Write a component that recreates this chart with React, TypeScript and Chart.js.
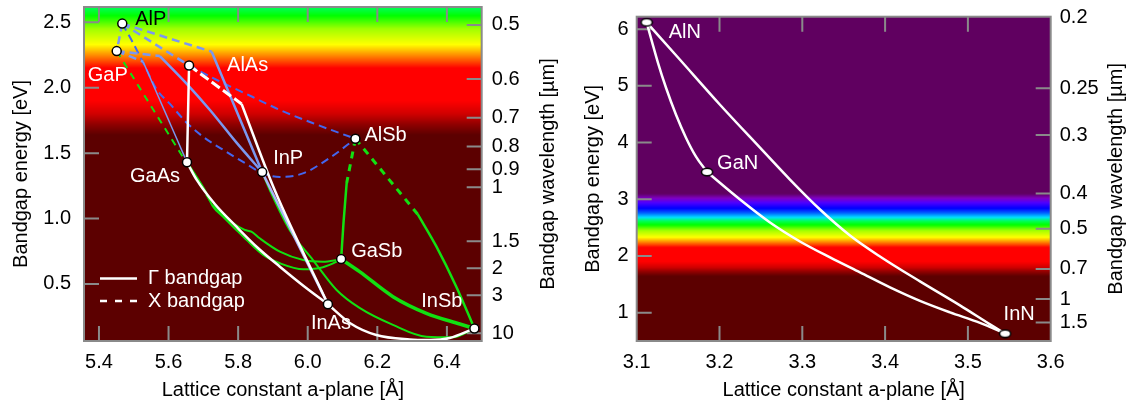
import React, { useEffect, useRef } from 'react';
import { Chart, registerables } from 'chart.js';
Chart.register(...registerables);

type P = [number, number];

const HC = 1.2398;
const FONT = '"Liberation Sans", Arial, Helvetica, sans-serif';
const GRAY = '#8a8a8a';
const TICK = 15;

// ---------- spectrum (energy eV -> colour) ----------
const spectrumEnergy = [1.64, 1.72, 1.8, 1.9, 2.15, 2.24, 2.33, 2.45, 2.55, 2.62, 2.68, 2.76, 2.84, 2.94, 3.02, 3.1];
const spectrumColor = ['#5c0000', '#900000', '#d00000', '#ff0000', '#ff0000', '#ff8000', '#ffff00', '#a0ff00', '#00ff00', '#00ff60', '#00e0ff', '#0060ff', '#0000ff', '#5000ff', '#8000c0', '#600060'];

// ---------- left chart: III-V (P, As, Sb) ----------
const leftNames = ['AlP', 'GaP', 'AlAs', 'GaAs', 'InP', 'AlSb', 'GaSb', 'InAs', 'InSb'];
const leftLattice = [5.467, 5.451, 5.659, 5.653, 5.869, 6.137, 6.096, 6.058, 6.479];
const leftGap = [2.49, 2.28, 2.17, 1.43, 1.355, 1.61, 0.69, 0.345, 0.16];
const leftXTicks = [5.4, 5.6, 5.8, 6.0, 6.2, 6.4];
const leftYTicks = [0.5, 1.0, 1.5, 2.0, 2.5];
const leftWlTicks = [0.5, 0.6, 0.7, 0.8, 0.9, 1, 1.5, 2, 3, 10];

// X-valley (indirect) curves, dashed
const alpGapX: P[] = [[5.467, 2.49], [5.451, 2.28]];
const alInPX: P[] = [[5.467, 2.49], [5.724, 2.275]];
const alAsPX: P[] = [[5.467, 2.49], [5.659, 2.17]];
const gaInPX: P[] = [[5.451, 2.28], [5.575, 2.242]];
const gaAsPX: P[] = [[5.451, 2.28], [5.527, 2.199]];
const alPSbX: P[] = [[5.467, 2.49], [5.498, 2.342], [5.526, 2.197], [5.567, 1.983], [5.604, 1.876], [5.653, 1.73], [5.704, 1.616], [5.767, 1.509], [5.819, 1.425], [5.871, 1.345], [5.92, 1.318], [5.986, 1.345], [6.063, 1.463], [6.137, 1.61]];
const alAsSbX: P[] = [[5.659, 2.17], [5.739, 2.059], [5.842, 1.929], [5.92, 1.83], [6.014, 1.73], [6.137, 1.61]];
const alInAsX: P[] = [[5.659, 2.17], [5.81, 1.876]];
const gaPSbX: P[] = [[5.451, 2.28], [5.727, 1.104]];
const alGaSbX: P[] = [[6.137, 1.61], [6.112, 1.272]];
const alInSbX: P[] = [[6.137, 1.61], [6.316, 1.033]];

// Gamma (direct) curves, solid
const alInPG: P[] = [[5.724, 2.275], [5.869, 1.355]];
const gaInPG: P[] = [[5.575, 2.242], [5.653, 2.028], [5.719, 1.83], [5.796, 1.578], [5.869, 1.355]];
const gaAsPG: P[] = [[5.527, 2.199], [5.653, 1.43]];
const inAsPG: P[] = [[5.869, 1.355], [6.058, 0.345]];
const alGaAsG: P[] = [[5.659, 2.17], [5.653, 1.43]];
const alInAsG: P[] = [[5.81, 1.876], [5.905, 1.218], [6.058, 0.345]];
const gaInAsG: P[] = [[5.653, 1.43], [5.681, 1.295], [5.733, 1.111], [5.795, 0.938], [5.857, 0.775], [5.92, 0.632], [5.992, 0.477], [6.058, 0.345]];
const inAsSbG: P[] = [[6.058, 0.345], [6.122, 0.2], [6.197, 0.11], [6.293, 0.076], [6.35, 0.072], [6.408, 0.087], [6.479, 0.16]];
const gaPSbG: P[] = [[5.727, 1.104], [5.786, 0.964], [5.819, 0.913], [5.838, 0.9], [5.862, 0.849], [5.92, 0.747], [5.987, 0.683], [6.044, 0.67], [6.083, 0.683], [6.096, 0.69]];
const gaAsSbG: P[] = [[5.653, 1.43], [5.679, 1.325], [5.704, 1.218], [5.728, 1.091], [5.757, 1.014], [5.795, 0.913], [5.824, 0.837], [5.872, 0.722], [5.92, 0.658], [5.987, 0.612], [6.044, 0.628], [6.083, 0.67], [6.096, 0.69]];
const inPSbG: P[] = [[5.869, 1.355], [5.891, 1.218], [5.948, 0.913], [6.015, 0.683], [6.083, 0.454], [6.149, 0.317], [6.245, 0.187], [6.341, 0.097], [6.417, 0.093], [6.479, 0.16]];
const alGaSbG: P[] = [[6.112, 1.272], [6.103, 0.974], [6.096, 0.69]];
const alInSbG: P[] = [[6.316, 1.033], [6.37, 0.785], [6.427, 0.479], [6.479, 0.16]];
const gaInSbG: P[] = [[6.096, 0.69], [6.149, 0.594], [6.245, 0.403], [6.341, 0.276], [6.437, 0.194], [6.479, 0.16]];

// ---------- right chart: nitrides ----------
const rightNames = ['AlN', 'GaN', 'InN'];
const rightLattice = [3.112, 3.185, 3.545];
const rightGap = [6.12, 3.48, 0.63];
const rightXTicks = [3.1, 3.2, 3.3, 3.4, 3.5, 3.6];
const rightYTicks = [1, 2, 3, 4, 5, 6];
const rightWlTicks = [0.2, 0.25, 0.3, 0.4, 0.5, 0.7, 1, 1.5];

const alGaNG: P[] = [[3.112, 6.12], [3.1185, 5.776], [3.1257, 5.407], [3.1354, 4.967], [3.1475, 4.491], [3.1595, 4.086], [3.1716, 3.752], [3.185, 3.48]];
const inGaNG: P[] = [[3.185, 3.48], [3.2248, 2.995], [3.261, 2.59], [3.2972, 2.255], [3.3335, 1.974], [3.3697, 1.71], [3.4059, 1.446], [3.4421, 1.208], [3.4784, 1.005], [3.5146, 0.82], [3.545, 0.63]];
const alInNG: P[] = [[3.112, 6.12], [3.1523, 5.46], [3.2006, 4.667], [3.2489, 3.91], [3.2851, 3.347], [3.3214, 2.819], [3.3576, 2.361], [3.3938, 1.991], [3.4421, 1.551], [3.4904, 1.128], [3.5267, 0.794], [3.545, 0.63]];

// ---------- label placement (pixels relative to point) ----------
const leftLabelDx = [13, -9, 38, -7, 11, 9, 10, 3, -12];
const leftLabelDy = [-4, 24.5, 0, 14.5, -13.5, -3.5, -7.5, 19, -26.5];
const leftLabelAlign: CanvasTextAlign[] = ['left', 'center', 'left', 'right', 'left', 'left', 'left', 'center', 'right'];
const leftLabelColor = ['#000000', '#ffffff', '#ffffff', '#ffffff', '#ffffff', '#ffffff', '#ffffff', '#ffffff', '#ffffff'];
const rightLabelDx = [22, 10, 14];
const rightLabelDy = [10.5, -9, -19.5];
const rightLabelAlign: CanvasTextAlign[] = ['left', 'left', 'center'];
const rightLabelColor = ['#ffffff', '#ffffff', '#ffffff'];

// ---------- helpers ----------
function hexToRgb(h: string) {
  const n = parseInt(h.slice(1), 16);
  return [(n >> 16) & 255, (n >> 8) & 255, n & 255];
}
function spectrumAt(e: number) {
  if (e <= spectrumEnergy[0]) return spectrumColor[0];
  const last = spectrumEnergy.length - 1;
  if (e >= spectrumEnergy[last]) return spectrumColor[last];
  let i = 0;
  while (e > spectrumEnergy[i + 1]) i++;
  const t = (e - spectrumEnergy[i]) / (spectrumEnergy[i + 1] - spectrumEnergy[i]);
  const a = hexToRgb(spectrumColor[i]);
  const b = hexToRgb(spectrumColor[i + 1]);
  const c = a.map((v, k) => Math.round(v + (b[k] - v) * t));
  return `rgb(${c[0]},${c[1]},${c[2]})`;
}
const toPts = (arr: P[]) => arr.map(([x, y]) => ({ x, y }));
function lineDs(pts: P[], color: string, width: number, dash: number[] = []) {
  return {
    type: 'scatter' as const,
    data: toPts(pts),
    showLine: true,
    borderColor: color,
    backgroundColor: color,
    borderWidth: width,
    borderDash: dash,
    borderJoinStyle: 'round' as const,
    pointRadius: 0,
    pointHoverRadius: 0,
    cubicInterpolationMode: 'monotone' as const,
    tension: 0.4,
    fill: false,
  };
}

interface Cfg {
  xMin: number; xMax: number; yMin: number; yMax: number;
  xTicks: number[]; yTicks: number[]; wlTicks: number[];
  xDigits: number; yDigits: number;
  padTop: number; leftW: number; rightW: number;
  yTitlePad: number; yTickPad: number; y2TickPad: number; xTickPad: number;
  rightTitleX: number;
  names: string[]; lattice: number[]; gap: number[];
  dx: number[]; dy: number[]; align: CanvasTextAlign[]; colors: string[];
  legend: boolean;
  datasets: any[];
}

function decoPlugin(cfg: Cfg) {
  return {
    id: 'deco',
    beforeDatasetsDraw(chart: any) {
      const { ctx, chartArea: a } = chart;
      const xs = chart.scales.x, ys = chart.scales.y, y2 = chart.scales.y2;
      ctx.save();
      for (let py = a.top; py < a.bottom; py += 1) {
        ctx.fillStyle = spectrumAt(ys.getValueForPixel(py + 0.5));
        ctx.fillRect(a.left, py, a.right - a.left, Math.min(1.3, a.bottom - py));
      }
      ctx.strokeStyle = GRAY;
      ctx.lineWidth = 2;
      ctx.beginPath();
      for (const v of cfg.xTicks) {
        const px = xs.getPixelForValue(v);
        if (px <= a.left + 1 || px >= a.right - 1) continue;
        ctx.moveTo(px, a.bottom); ctx.lineTo(px, a.bottom - TICK);
        ctx.moveTo(px, a.top); ctx.lineTo(px, a.top + TICK);
      }
      for (const v of cfg.yTicks) {
        const py = ys.getPixelForValue(v);
        if (py <= a.top + 1 || py >= a.bottom - 1) continue;
        ctx.moveTo(a.left, py); ctx.lineTo(a.left + TICK, py);
      }
      for (const l of cfg.wlTicks) {
        const py = y2.getPixelForValue(HC / l);
        if (py <= a.top + 2 || py >= a.bottom - 1) continue;
        ctx.moveTo(a.right, py); ctx.lineTo(a.right - TICK, py);
      }
      ctx.stroke();
      ctx.restore();
    },
    afterDatasetsDraw(chart: any) {
      const { ctx, chartArea: a } = chart;
      const xs = chart.scales.x, ys = chart.scales.y;
      ctx.save();
      ctx.strokeStyle = GRAY;
      ctx.lineWidth = 2;
      ctx.strokeRect(a.left, a.top, a.right - a.left, a.bottom - a.top);
      ctx.font = `20px ${FONT}`;
      ctx.textBaseline = 'middle';
      cfg.names.forEach((n, i) => {
        const px = xs.getPixelForValue(cfg.lattice[i]);
        const py = ys.getPixelForValue(cfg.gap[i]);
        ctx.fillStyle = cfg.colors[i];
        ctx.textAlign = cfg.align[i];
        ctx.fillText(n, px + cfg.dx[i], py + cfg.dy[i]);
      });
      if (cfg.legend) {
        const y1 = a.bottom - 62.5, yb = a.bottom - 40;
        ctx.strokeStyle = '#ffffff';
        ctx.lineWidth = 2.5;
        ctx.beginPath(); ctx.moveTo(a.left + 16, y1); ctx.lineTo(a.left + 53, y1); ctx.stroke();
        ctx.setLineDash([7, 8]);
        ctx.beginPath(); ctx.moveTo(a.left + 16, yb); ctx.lineTo(a.left + 53, yb); ctx.stroke();
        ctx.setLineDash([]);
        ctx.fillStyle = '#ffffff';
        ctx.textAlign = 'left';
        ctx.fillText('\u0393 bandgap', a.left + 64, y1);
        ctx.fillText('X bandgap', a.left + 64, yb);
      }
      ctx.restore();
    },
    afterDraw(chart: any) {
      const { ctx, chartArea: a } = chart;
      ctx.save();
      ctx.font = `20px ${FONT}`;
      ctx.fillStyle = '#000';
      ctx.textAlign = 'center';
      ctx.textBaseline = 'middle';
      ctx.translate(cfg.rightTitleX, (a.top + a.bottom) / 2);
      ctx.rotate(-Math.PI / 2);
      ctx.fillText('Bandgap wavelength [\u00b5m]', 0, 0);
      ctx.restore();
    },
  };
}

function zeroPad(s: any) {
  s.paddingTop = 0; s.paddingBottom = 0; s.paddingLeft = 0; s.paddingRight = 0;
}

function buildConfig(cfg: Cfg): any {
  const font = { family: FONT, size: 20 };
  return {
    type: 'scatter',
    data: { datasets: cfg.datasets },
    plugins: [decoPlugin(cfg)],
    options: {
      animation: false,
      responsive: false,
      events: [],
      layout: { padding: { top: cfg.padTop, left: 0, right: 0, bottom: 0 } },
      plugins: { legend: { display: false }, tooltip: { enabled: false } },
      scales: {
        x: {
          type: 'linear', position: 'bottom', min: cfg.xMin, max: cfg.xMax,
          afterBuildTicks: (s: any) => { s.ticks = cfg.xTicks.map((v) => ({ value: v })); },
          afterFit: (s: any) => { s.height = 64; zeroPad(s); },
          grid: { display: false, drawTicks: false },
          border: { display: false },
          ticks: { font, color: '#000', padding: cfg.xTickPad, autoSkip: false, maxRotation: 0, callback: (v: any) => Number(v).toFixed(cfg.xDigits) },
          title: { display: true, text: 'Lattice constant a-plane [\u00c5]', font, color: '#000', padding: { top: 0, bottom: 3 } },
        },
        y: {
          type: 'linear', position: 'left', min: cfg.yMin, max: cfg.yMax,
          afterBuildTicks: (s: any) => { s.ticks = cfg.yTicks.map((v) => ({ value: v })); },
          afterFit: (s: any) => { s.width = cfg.leftW; zeroPad(s); },
          grid: { display: false, drawTicks: false },
          border: { display: false },
          ticks: { font, color: '#000', padding: cfg.yTickPad, autoSkip: false, callback: (v: any) => Number(v).toFixed(cfg.yDigits) },
          title: { display: true, text: 'Bandgap energy [eV]', font, color: '#000', padding: { top: cfg.yTitlePad, bottom: 0 } },
        },
        y2: {
          type: 'linear', position: 'right', min: cfg.yMin, max: cfg.yMax,
          afterBuildTicks: (s: any) => { s.ticks = cfg.wlTicks.map((l) => ({ value: HC / l })); },
          afterFit: (s: any) => { s.width = cfg.rightW; zeroPad(s); },
          grid: { display: false, drawTicks: false },
          border: { display: false },
          ticks: { font, color: '#000', padding: cfg.y2TickPad, autoSkip: false, callback: (_v: any, i: number) => String(cfg.wlTicks[i]) },
        },
      },
    },
  };
}

function pointsDs(lat: number[], gap: number[], style: any, radius: number) {
  return {
    type: 'scatter' as const,
    data: lat.map((x, i) => ({ x, y: gap[i] })),
    showLine: false,
    pointStyle: style,
    pointRadius: radius,
    pointHoverRadius: radius,
    pointBackgroundColor: '#ffffff',
    pointBorderColor: '#000000',
    pointBorderWidth: 1.5,
  };
}

const WHITE = '#ffffff';
const GREEN = '#12e012';
const LBLUE = '#7b98f0';
const DBLUE = '#4466ee';
const PALE = '#aab4f8';

export default function App() {
  const leftRef = useRef<HTMLCanvasElement>(null);
  const rightRef = useRef<HTMLCanvasElement>(null);

  useEffect(() => {
    const dash = [8, 5];
    const gdash = [7, 6];
    const leftDatasets = [
      pointsDs(leftLattice, leftGap, 'circle', 4.5),
      lineDs(alGaAsG, WHITE, 2.5),
      lineDs(alInAsG, WHITE, 2.5),
      lineDs(alInAsX, WHITE, 3, [10, 4]),
      lineDs(gaInAsG, WHITE, 2.5),
      lineDs(inAsSbG, WHITE, 2.5),
      lineDs(inAsPG, PALE, 2.5),
      lineDs(gaInSbG, GREEN, 3.5),
      lineDs(alInSbG, GREEN, 2.5),
      lineDs(alGaSbG, GREEN, 2.5),
      lineDs(inPSbG, GREEN, 2),
      lineDs(gaAsSbG, GREEN, 2),
      lineDs(gaPSbG, GREEN, 2),
      lineDs(gaPSbX, GREEN, 2, gdash),
      lineDs(alGaSbX, GREEN, 3, gdash),
      lineDs(alInSbX, GREEN, 3, gdash),
      lineDs(alInPG, LBLUE, 2.5),
      lineDs(gaInPG, LBLUE, 2.5),
      lineDs(gaAsPG, LBLUE, 1.5),
      lineDs(alpGapX, LBLUE, 2.5, dash),
      lineDs(alInPX, LBLUE, 2.5, dash),
      lineDs(alAsPX, LBLUE, 2.5, dash),
      lineDs(gaInPX, LBLUE, 2.5, dash),
      lineDs(gaAsPX, LBLUE, 2.5, dash),
      lineDs(alPSbX, DBLUE, 2, dash),
      lineDs(alAsSbX, DBLUE, 2, dash),
    ];

    const ell = document.createElement('canvas');
    ell.width = 14; ell.height = 10;
    const ec = ell.getContext('2d')!;
    ec.beginPath();
    ec.ellipse(7, 5, 5.6, 3.8, 0, 0, Math.PI * 2);
    ec.fillStyle = '#ffffff'; ec.fill();
    ec.lineWidth = 1.5; ec.strokeStyle = '#000000'; ec.stroke();

    const rightDatasets = [
      pointsDs(rightLattice, rightGap, ell, 5),
      lineDs(alGaNG, WHITE, 2.5),
      lineDs(inGaNG, WHITE, 2.5),
      lineDs(alInNG, WHITE, 2.5),
    ];

    const c1 = new Chart(leftRef.current!, buildConfig({
      xMin: 5.357, xMax: 6.5, yMin: 0.064, yMax: 2.617,
      xTicks: leftXTicks, yTicks: leftYTicks, wlTicks: leftWlTicks,
      xDigits: 1, yDigits: 1,
      padTop: 7, leftW: 84, rightW: 78.3,
      yTitlePad: 9, yTickPad: 13, y2TickPad: 10, xTickPad: 9,
      rightTitleX: 548,
      names: leftNames, lattice: leftLattice, gap: leftGap,
      dx: leftLabelDx, dy: leftLabelDy, align: leftLabelAlign, colors: leftLabelColor,
      legend: true,
      datasets: leftDatasets,
    }));
    const c2 = new Chart(rightRef.current!, buildConfig({
      xMin: 3.1, xMax: 3.6, yMin: 0.5, yMax: 6.22,
      xTicks: rightXTicks, yTicks: rightYTicks, wlTicks: rightWlTicks,
      xDigits: 1, yDigits: 0,
      padTop: 16.7, leftW: 76.7, rightW: 77.3,
      yTitlePad: 21, yTickPad: 8, y2TickPad: 9, xTickPad: 9,
      rightTitleX: 556,
      names: rightNames, lattice: rightLattice, gap: rightGap,
      dx: rightLabelDx, dy: rightLabelDy, align: rightLabelAlign, colors: rightLabelColor,
      legend: false,
      datasets: rightDatasets,
    }));
    return () => { c1.destroy(); c2.destroy(); };
  }, []);

  return (
    <div style={{ position: 'fixed', left: 0, top: 0, width: 1128, height: 405, background: '#ffffff' }}>
      <canvas ref={leftRef} width={560} height={405} style={{ position: 'absolute', left: 0, top: 0, width: 560, height: 405 }} />
      <canvas ref={rightRef} width={568} height={405} style={{ position: 'absolute', left: 560, top: 0, width: 568, height: 405 }} />
    </div>
  );
}
